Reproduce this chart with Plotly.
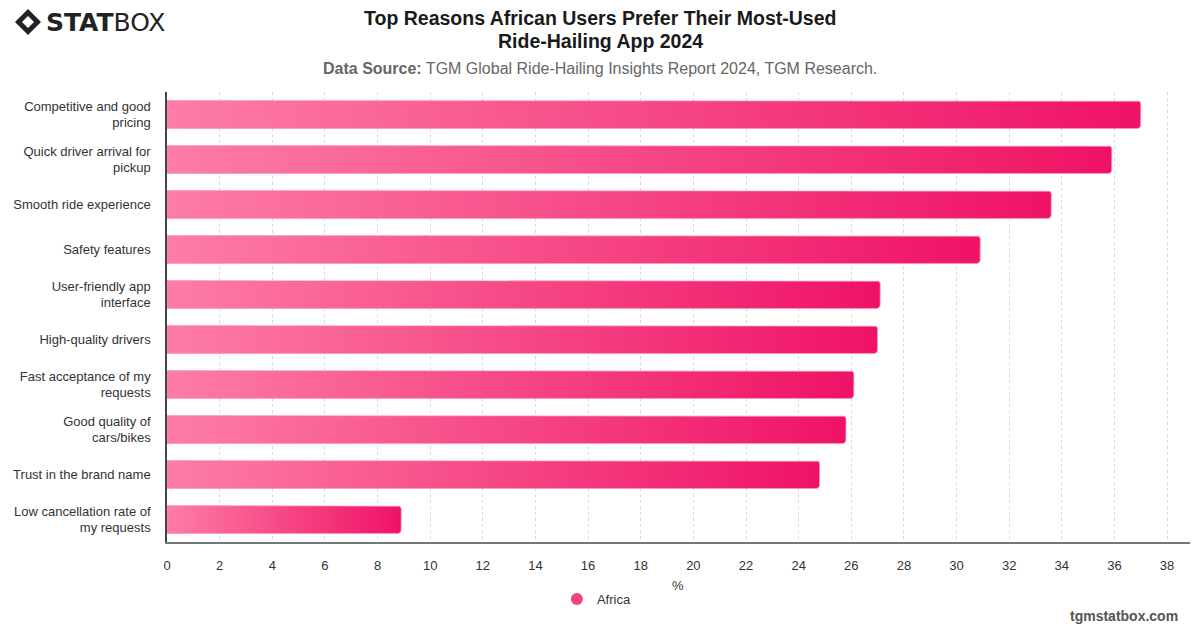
import plotly.graph_objects as go
import numpy as np

categories = [
    "Competitive and good<br>pricing",
    "Quick driver arrival for<br>pickup",
    "Smooth ride experience",
    "Safety features",
    "User-friendly app<br>interface",
    "High-quality drivers",
    "Fast acceptance of my<br>requests",
    "Good quality of<br>cars/bikes",
    "Trust in the brand name",
    "Low cancellation rate of<br>my requests",
]
values = [37.0, 35.9, 33.6, 30.9, 27.1, 27.0, 26.1, 25.8, 24.8, 8.9]
series_name = "Africa"
x_ticks = list(range(0, 40, 2))
x_title = "%"
title_lines = ["Top Reasons African Users Prefer Their Most-Used", "Ride-Hailing App 2024"]

LIGHT = "#FD7DA7"
DARK = "#EF1266"
FONT = "Liberation Sans"

W, H = 1200, 628
margin = dict(l=167, r=10, t=92, b=86, autoexpand=False)
PW = W - margin["l"] - margin["r"]
PH = H - margin["t"] - margin["b"]
x_range = [0, 38.87]
y_range = [len(categories) - 0.5, -0.5]
px_per_x = PW / (x_range[1] - x_range[0])
px_per_y = PH / len(categories)
bar_w = 0.62
radius_px = 3.5


def px2paper(px, py):
    return ((px - margin["l"]) / PW, (H - margin["b"] - py) / PH)


def bar_path(i, v):
    """Outline of a horizontal bar with rounded right corners, in data units."""
    h = bar_w / 2
    rx = radius_px / px_per_x
    ry = radius_px / px_per_y
    xs = [0, v - rx]
    ys = [i - h, i - h]
    for a in np.linspace(-np.pi / 2, 0, 6)[1:]:
        xs.append(v - rx + rx * np.cos(a))
        ys.append(i - h + ry + ry * np.sin(a))
    for a in np.linspace(0, np.pi / 2, 6)[1:]:
        xs.append(v - rx + rx * np.cos(a))
        ys.append(i + h - ry + ry * np.sin(a))
    xs += [0, 0]
    ys += [i + h, i - h]
    return xs, ys


fig = go.Figure()
for i, (cat, v) in enumerate(zip(categories, values)):
    xs, ys = bar_path(i, v)
    fig.add_trace(go.Scatter(
        x=xs, y=ys, mode="lines", fill="toself",
        fillgradient=dict(type="horizontal", colorscale=[[0, LIGHT], [1, DARK]]),
        line=dict(width=0.8, color="rgba(255,150,185,0.9)"),
        hoverinfo="text", text=f"{cat.replace('<br>', ' ')}: {v}%",
        showlegend=False,
    ))

fig.add_trace(go.Scatter(
    x=[None], y=[None], mode="markers", name=series_name,
    marker=dict(size=12, color="#F4447F", symbol="circle"),
    showlegend=True,
))

fig.update_layout(
    width=W, height=H,
    margin=margin,
    paper_bgcolor="white", plot_bgcolor="white",
    font=dict(family=FONT, size=13, color="#333333"),
    showlegend=True,
    legend=dict(orientation="h", xref="container", yref="container",
                x=0.497, xanchor="center", y=1 - 599 / H, yanchor="middle",
                font=dict(size=13, color="#333333"), itemwidth=30),
)

fig.update_xaxes(
    range=x_range, tickvals=x_ticks, ticktext=[str(t) for t in x_ticks],
    showgrid=True, gridcolor="#d9d9d9", griddash="dot", gridwidth=1,
    showline=True, linecolor="#777777", linewidth=1.5,
    zeroline=False, ticks="", ticklabelstandoff=11,
    tickfont=dict(size=13, color="#333333"),
    automargin=False,
)
fig.update_yaxes(
    range=y_range, tickvals=list(range(len(categories))), ticktext=categories,
    showgrid=False, showline=True, linecolor="#444444", linewidth=1.5,
    zeroline=False, ticks="", ticklabelstandoff=12,
    tickfont=dict(size=13, color="#333333"),
    automargin=False,
)

# title lines
for line, ypx in zip(title_lines, [18, 41]):
    tx, ty = px2paper(600, ypx)
    fig.add_annotation(
        text=f"<b>{line}</b>", xref="paper", yref="paper", x=tx, y=ty,
        xanchor="center", yanchor="middle", showarrow=False,
        font=dict(family=FONT, size=19.5, color="#1a1a1a"),
    )
sx, sy = px2paper(600, 68)
fig.add_annotation(
    text="<b>Data Source:</b> TGM Global Ride-Hailing Insights Report 2024, TGM Research.",
    xref="paper", yref="paper", x=sx, y=sy,
    xanchor="center", yanchor="middle",
    showarrow=False, font=dict(family=FONT, size=16, color="#666666"),
)
# x axis title
ax, ay = px2paper(678, 585)
fig.add_annotation(
    text=x_title, xref="paper", yref="paper", x=ax, y=ay,
    xanchor="center", yanchor="middle", showarrow=False,
    font=dict(family=FONT, size=13, color="#333333"),
)
fx, fy = px2paper(1180, 616)
fig.add_annotation(
    text="<b>tgmstatbox.com</b>", xref="paper", yref="paper",
    x=fx, y=fy, xanchor="right", yanchor="middle", showarrow=False,
    font=dict(family=FONT, size=14, color="#555555"),
)
lx, ly = px2paper(44, 22)
fig.add_annotation(
    text="<b>STAT</b>BOX", xref="paper", yref="paper",
    x=lx, y=ly, xanchor="left", yanchor="middle", showarrow=False,
    font=dict(family="DejaVu Sans", size=25, color="#222222"),
)
cx, cy = 28, 22
for r, col in [(13, "#222222"), (6, "white")]:
    pts = [(cx, cy - r), (cx + r, cy), (cx, cy + r), (cx - r, cy)]
    pp = [px2paper(*p) for p in pts]
    fig.add_shape(type="path", xref="paper", yref="paper",
                  path="M {} {} L {} {} L {} {} L {} {} Z".format(*[c for p in pp for c in p]),
                  fillcolor=col, line=dict(width=0))

fig.write_html("out.html")
